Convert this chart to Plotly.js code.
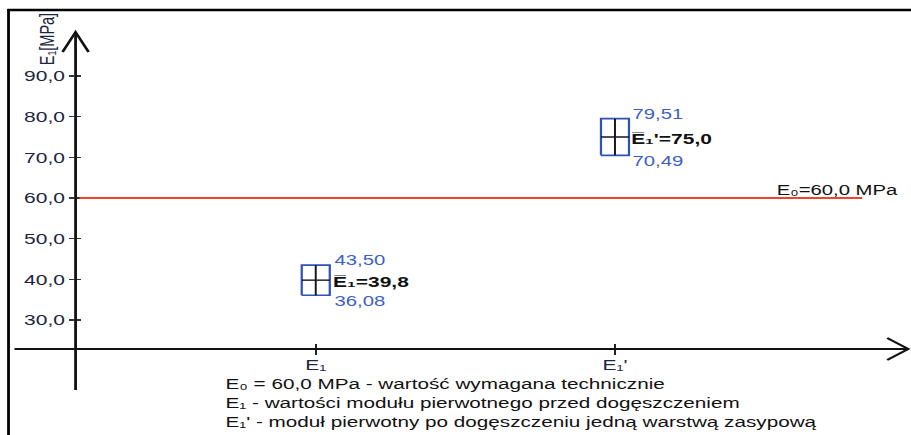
<!DOCTYPE html>
<html><head><meta charset="utf-8">
<script src="https://cdn.plot.ly/plotly-3.0.1.min.js"></script>
<style>
html,body{margin:0;padding:0;background:#fff;overflow:hidden}
#wrap{width:911px;height:435px;overflow:hidden;position:relative}
#chart{transform-origin:0 0;position:absolute;left:0;top:0}
</style></head>
<body><div id="wrap"><div id="chart"></div></div>
<script>
// ---- data ----
const categories = ['E\u2081', "E\u2081'"];
const meanNames = ['E\u0305\u2081', "E\u0305\u2081'"];
const upperValues = [43.50, 79.51];
const meanValues = [39.8, 75.0];
const lowerValues = [36.08, 70.49];
const e0Value = 60.0;
const e0Label = 'E\u2080=60,0 MPa';
const yTickValues = [30, 40, 50, 60, 70, 80, 90];
const yAxisTitle = 'E\u2081[MPa]';
const legendLines = [
  'E\u2080 = 60,0 MPa - wartość wymagana technicznie',
  'E\u2081 - wartości modułu pierwotnego przed dogęszczeniem',
  "E\u2081' - moduł pierwotny po dogęszczeniu jedną warstwą zasypową"
];

// ---- layout geometry (target pixels) ----
const PW = 651, PH = 435;
const S = 911 / PW;               // horizontal stretch of the reference
const L = 76, R = 908, T = 32, B = 349;
const xppu = 299;                 // px per category step
const x0px = 316;                 // px of first category
const yppu = 4.0667;              // px per MPa
const yRefVal = 30, yRefPx = 320;
const xRange = [-(x0px - L) / xppu, (R - x0px) / xppu];
const yRange = [yRefVal - (B - yRefPx) / yppu, yRefVal + (yRefPx - T) / yppu];
const px = x => (x - L) / (R - L);
const py = y => (B - y) / (B - T);
const hw = 14 / xppu;

const font = 'Arial, "Liberation Sans", sans-serif';
const blue = '#2f52b8', txtBlue = '#3d5fc6', dark = '#1c2541';

const traces = [];
categories.forEach((c, i) => {
  const lo = lowerValues[i], hi = upperValues[i], m = meanValues[i];
  traces.push({type: 'scatter', mode: 'lines', x: [i - hw, i + hw, i + hw, i - hw, i - hw],
    y: [lo, lo, hi, hi, lo], line: {color: blue, width: 1.6}, hoverinfo: 'skip', showlegend: false});
  traces.push({type: 'scatter', mode: 'lines', x: [i - hw, i + hw, null, i, i],
    y: [m, m, null, lo, hi], line: {color: '#15151f', width: 1.4}, hoverinfo: 'skip', showlegend: false});
});
traces.push({type: 'scatter', mode: 'markers', x: [null], y: [null], xaxis: 'x2', yaxis: 'y2', showlegend: false, hoverinfo: 'skip'});

const fmt = (v, d) => v.toFixed(d).replace('.', ',');
const annotations = [];
categories.forEach((c, i) => {
  annotations.push({xref: 'x', yref: 'y', x: i + hw, y: upperValues[i], xanchor: 'left', yanchor: 'middle',
    xshift: 1, yshift: 5, text: fmt(upperValues[i], 2), showarrow: false, font: {family: font, size: 14.5, color: txtBlue}});
  annotations.push({xref: 'x', yref: 'y', x: i + hw, y: lowerValues[i], xanchor: 'left', yanchor: 'middle',
    xshift: 1, yshift: -6, text: fmt(lowerValues[i], 2), showarrow: false, font: {family: font, size: 14.5, color: txtBlue}});
  annotations.push({xref: 'x', yref: 'y', x: i + hw, y: meanValues[i], xanchor: 'left', yanchor: 'middle',
    xshift: 0, yshift: -1, text: '<b>' + meanNames[i] + '=' + fmt(meanValues[i], 1) + '</b>', showarrow: false,
    font: {family: font, size: 15, color: '#111'}});
});
annotations.push({xref: 'paper', yref: 'y', x: px(774), y: e0Value, xanchor: 'left', yanchor: 'middle', yshift: 8,
  text: e0Label, showarrow: false, font: {family: font, size: 14.5, color: '#111'}});
annotations.push({xref: 'paper', yref: 'paper', x: px(47), y: py(39), xanchor: 'center', yanchor: 'middle',
  textangle: -90, text: yAxisTitle, showarrow: false, font: {family: font, size: 14.5, color: dark}});
legendLines.forEach((t, k) => {
  annotations.push({xref: 'paper', yref: 'paper', x: px(223), y: py(384 + 19 * k), xanchor: 'left', yanchor: 'middle',
    text: t, showarrow: false, font: {family: font, size: 14.8, color: '#111'}});
});

const blk = {color: '#111', width: 2};
const shapes = [
  // frame
  {type: 'line', xref: 'paper', yref: 'paper', x0: px(8), x1: px(912), y0: py(10), y1: py(10), line: {color: '#000', width: 2.5}},
  {type: 'line', xref: 'paper', yref: 'paper', x0: px(9), x1: px(9), y0: py(9), y1: py(436), line: {color: '#000', width: 2}},
  // axes
  {type: 'line', xref: 'paper', yref: 'paper', x0: px(76), x1: px(76), y0: py(390), y1: py(33), line: blk},
  {type: 'line', xref: 'paper', yref: 'paper', x0: px(15), x1: px(907), y0: py(349), y1: py(349), line: blk},
  {type: 'path', xref: 'paper', yref: 'paper',
    path: `M${px(63)},${py(52)} L${px(76)},${py(32)} L${px(89)},${py(52)}`, line: blk},
  {type: 'path', xref: 'paper', yref: 'paper',
    path: `M${px(887)},${py(338)} L${px(908)},${py(349)} L${px(887)},${py(360)}`, line: blk},
  // E0 requirement line
  {type: 'line', xref: 'paper', yref: 'y', x0: px(80), x1: px(862), y0: e0Value, y1: e0Value,
    line: {color: '#f0442e', width: 2}}
];

const axCommon = {showgrid: false, zeroline: false, showline: false, automargin: false, fixedrange: true};
const layout = {
  width: PW, height: PH,
  margin: {l: L / S, r: (911 - R) / S, t: T, b: PH - B, pad: 0},
  paper_bgcolor: '#fff', plot_bgcolor: 'rgba(0,0,0,0)',
  separators: ', ',
  showlegend: false,
  font: {family: font, color: dark},
  xaxis: Object.assign({}, axCommon, {range: xRange, tickmode: 'array', tickvals: [0, 1], ticktext: categories,
    ticks: 'outside', ticklen: 5, tickwidth: 1.3, tickcolor: '#222', ticklabelstandoff: -3,
    tickfont: {family: font, size: 15, color: dark}}),
  xaxis2: Object.assign({}, axCommon, {range: xRange, overlaying: 'x', anchor: 'y', side: 'bottom', tickmode: 'array',
    tickvals: [0, 1], ticks: 'inside', ticklen: 5, tickwidth: 1.3, tickcolor: '#222', showticklabels: false}),
  yaxis: Object.assign({}, axCommon, {range: yRange, tickmode: 'array', tickvals: yTickValues, tickformat: '.1f',
    ticks: 'outside', ticklen: 3.6, tickwidth: 1.2, tickcolor: '#333', tickfont: {family: font, size: 15, color: dark}}),
  yaxis2: Object.assign({}, axCommon, {range: yRange, overlaying: 'y', anchor: 'x', side: 'left', tickmode: 'array',
    tickvals: yTickValues, ticks: 'inside', ticklen: 3.6, tickwidth: 1.2, tickcolor: '#333', showticklabels: false}),
  shapes: shapes,
  annotations: annotations
};

const el = document.getElementById('chart');
el.style.transform = 'scaleX(' + S + ')';
Plotly.newPlot(el, traces, layout, {staticPlot: true, displayModeBar: false});
</script>
</body></html>
